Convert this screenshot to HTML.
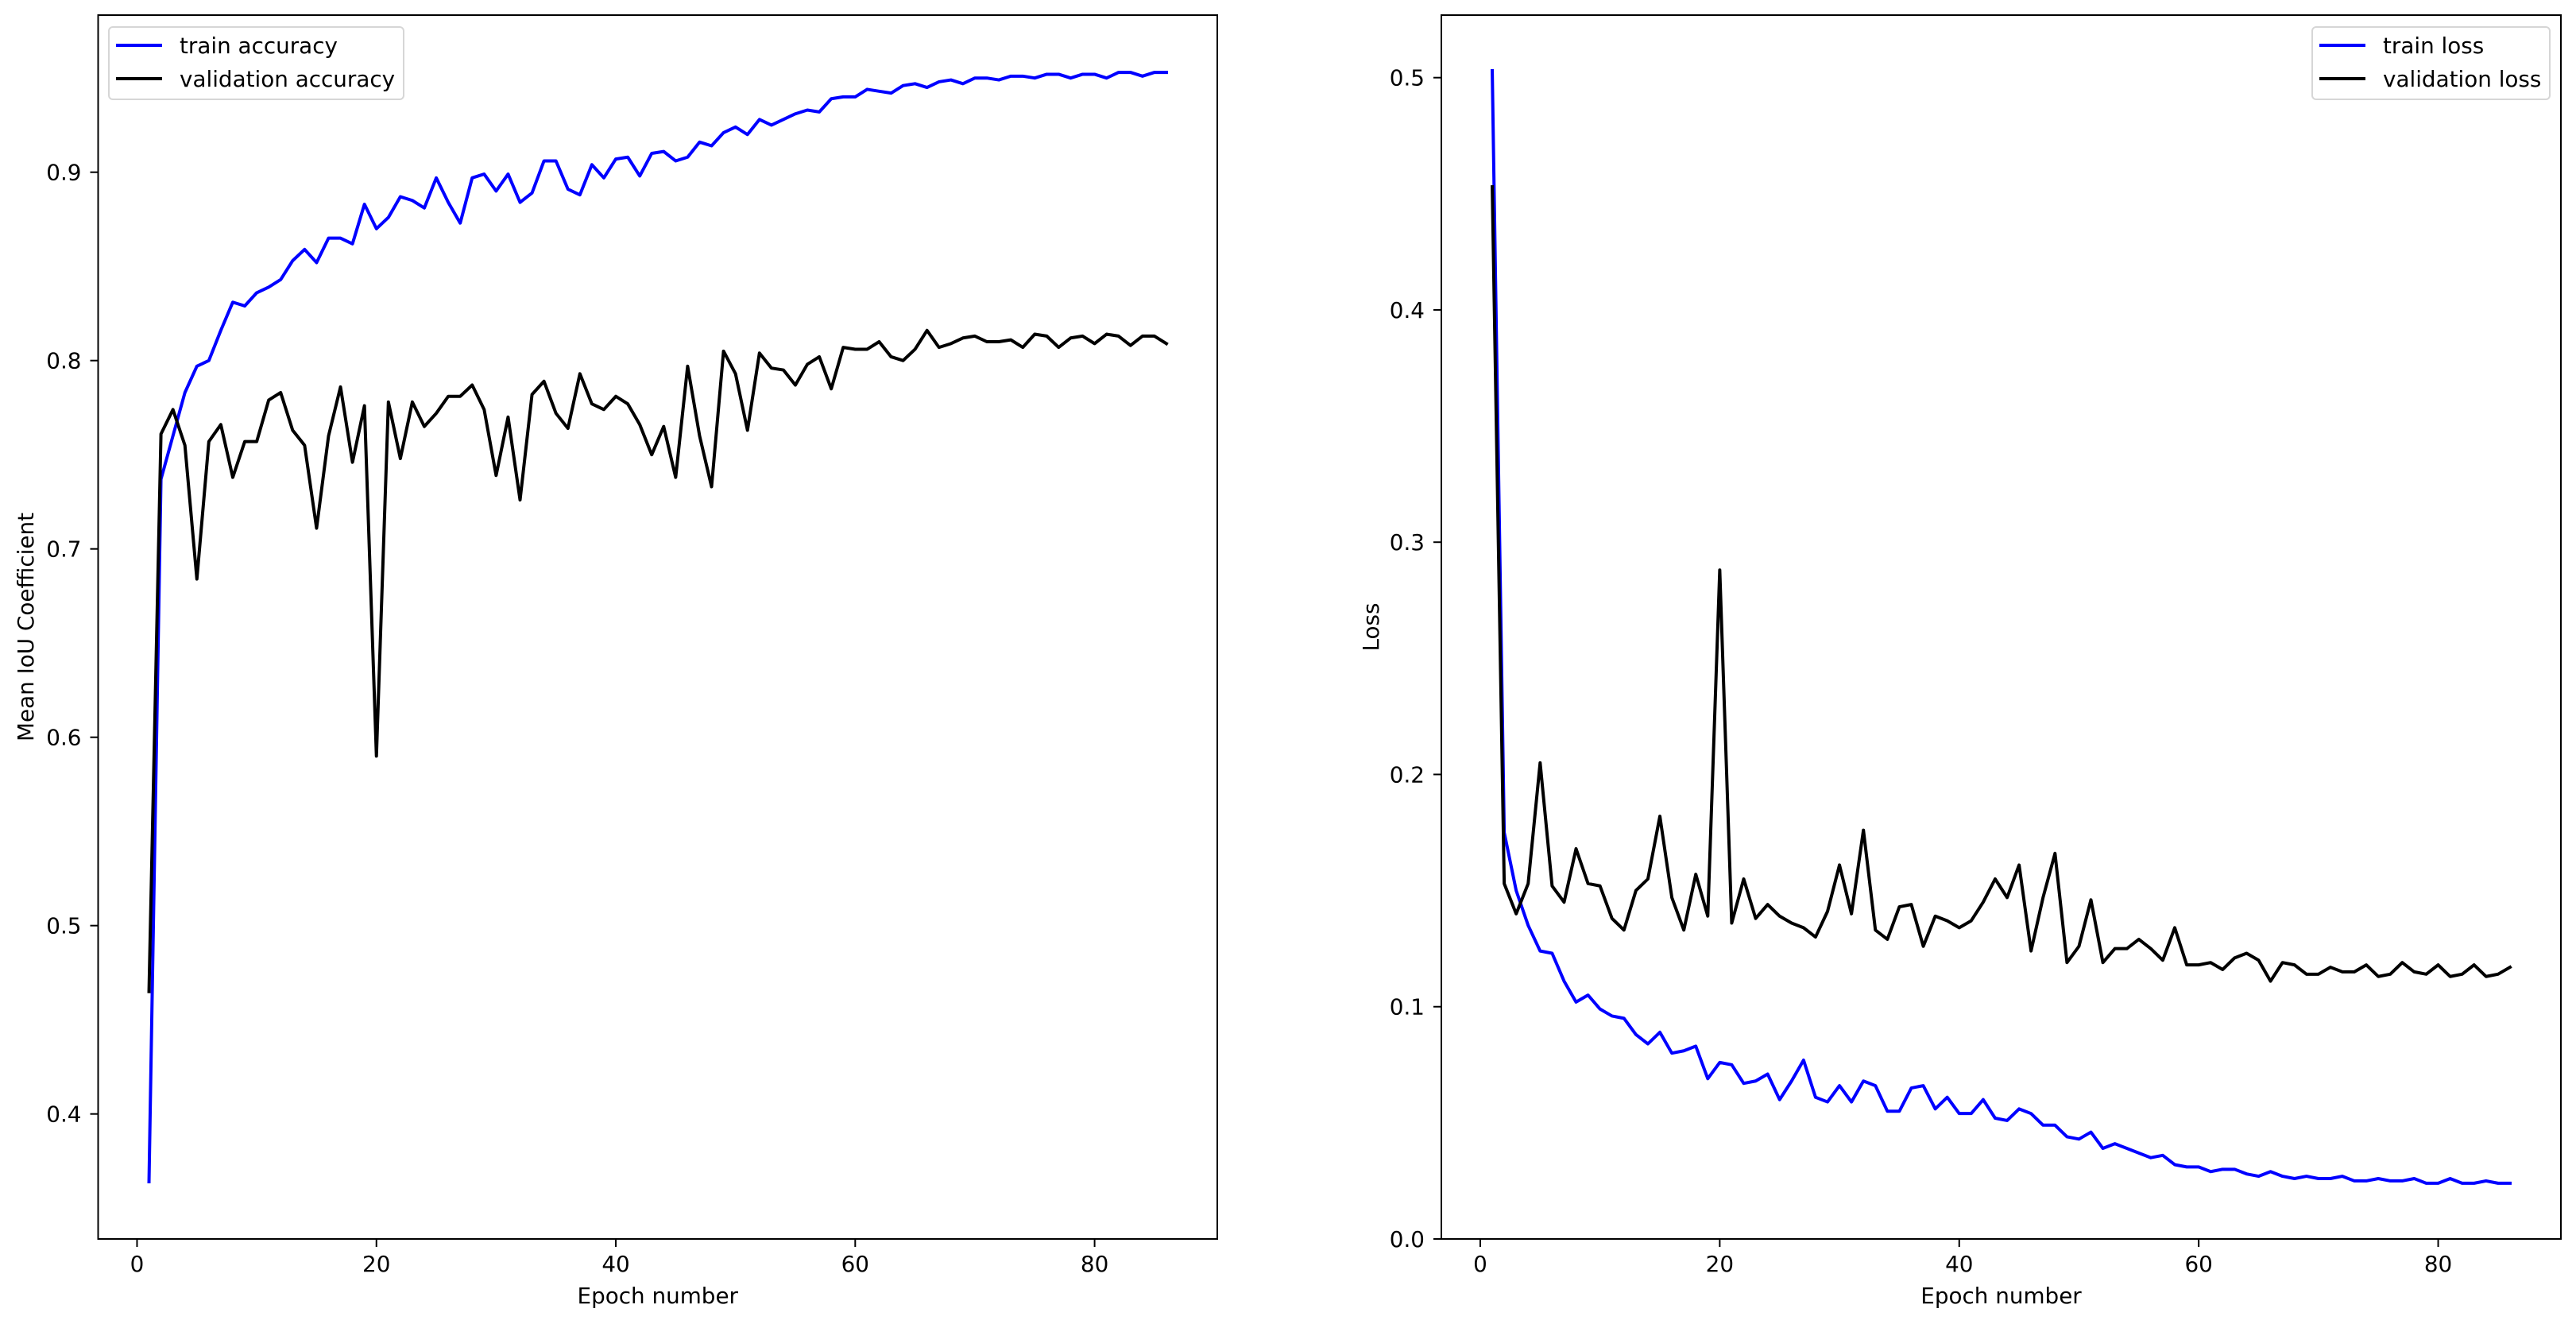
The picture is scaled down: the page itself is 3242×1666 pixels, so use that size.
<!DOCTYPE html>
<html><head><meta charset="utf-8"><style>
html,body{margin:0;padding:0;background:#fff}
svg{display:block;font-family:"DejaVu Sans","Liberation Sans",sans-serif}
</style></head><body>
<svg id="chart" width="3242" height="1666" viewBox="0 0 3242 1666" xmlns="http://www.w3.org/2000/svg">
<rect width="3242" height="1666" fill="#fff"/>
</svg>
<script>
const epochs = Array.from({length:86},(_,i)=>i+1);
const trainAcc = [0.364,0.737,0.760,0.783,0.797,0.800,0.816,0.831,0.829,0.836,0.839,0.843,0.853,0.859,0.852,0.865,0.865,0.862,0.883,0.870,0.876,0.887,0.885,0.881,0.897,0.884,0.873,0.897,0.899,0.890,0.899,0.884,0.889,0.906,0.906,0.891,0.888,0.904,0.897,0.907,0.908,0.898,0.910,0.911,0.906,0.908,0.916,0.914,0.921,0.924,0.920,0.928,0.925,0.928,0.931,0.933,0.932,0.939,0.940,0.940,0.944,0.943,0.942,0.946,0.947,0.945,0.948,0.949,0.947,0.950,0.950,0.949,0.951,0.951,0.950,0.952,0.952,0.950,0.952,0.952,0.950,0.953,0.953,0.951,0.953,0.953];
const valAcc = [0.465,0.761,0.774,0.755,0.684,0.757,0.766,0.738,0.757,0.757,0.779,0.783,0.763,0.755,0.711,0.760,0.786,0.746,0.776,0.590,0.778,0.748,0.778,0.765,0.772,0.781,0.781,0.787,0.774,0.739,0.770,0.726,0.782,0.789,0.772,0.764,0.793,0.777,0.774,0.781,0.777,0.766,0.750,0.765,0.738,0.797,0.760,0.733,0.805,0.793,0.763,0.804,0.796,0.795,0.787,0.798,0.802,0.785,0.807,0.806,0.806,0.810,0.802,0.800,0.806,0.816,0.807,0.809,0.812,0.813,0.810,0.810,0.811,0.807,0.814,0.813,0.807,0.812,0.813,0.809,0.814,0.813,0.808,0.813,0.813,0.809];
const trainLoss = [0.503,0.175,0.150,0.135,0.124,0.123,0.111,0.102,0.105,0.099,0.096,0.095,0.088,0.084,0.089,0.080,0.081,0.083,0.069,0.076,0.075,0.067,0.068,0.071,0.060,0.068,0.077,0.061,0.059,0.066,0.059,0.068,0.066,0.055,0.055,0.065,0.066,0.056,0.061,0.054,0.054,0.060,0.052,0.051,0.056,0.054,0.049,0.049,0.044,0.043,0.046,0.039,0.041,0.039,0.037,0.035,0.036,0.032,0.031,0.031,0.029,0.030,0.030,0.028,0.027,0.029,0.027,0.026,0.027,0.026,0.026,0.027,0.025,0.025,0.026,0.025,0.025,0.026,0.024,0.024,0.026,0.024,0.024,0.025,0.024,0.024];
const valLoss = [0.453,0.153,0.140,0.153,0.205,0.152,0.145,0.168,0.153,0.152,0.138,0.133,0.150,0.155,0.182,0.147,0.133,0.157,0.139,0.288,0.136,0.155,0.138,0.144,0.139,0.136,0.134,0.130,0.141,0.161,0.140,0.176,0.133,0.129,0.143,0.144,0.126,0.139,0.137,0.134,0.137,0.145,0.155,0.147,0.161,0.124,0.147,0.166,0.119,0.126,0.146,0.119,0.125,0.125,0.129,0.125,0.120,0.134,0.118,0.118,0.119,0.116,0.121,0.123,0.120,0.111,0.119,0.118,0.114,0.114,0.117,0.115,0.115,0.118,0.113,0.114,0.119,0.115,0.114,0.118,0.113,0.114,0.118,0.113,0.114,0.117];
const xTicks = [0,20,40,60,80];
const accTicks = [0.4,0.5,0.6,0.7,0.8,0.9];
const lossTicks = [0.0,0.1,0.2,0.3,0.4,0.5];

const NS="http://www.w3.org/2000/svg";
const svg=document.getElementById('chart');
const FS=27.8;
function mk(tag,attrs,parent){const e=document.createElementNS(NS,tag);for(const k in attrs)e.setAttribute(k,attrs[k]);(parent||svg).appendChild(e);return e;}

function panel(cfg){
  const g=mk('g',{});
  
  
  const L=cfg.left,R=cfg.right,T=19,B=1559;
  const xs=v=>L+(v+3.25)*(R-L)/93.5;
  const ys=v=>cfg.y0px+(cfg.y0-v)*cfg.pxPerUnit;
  cfg.series.forEach(s=>{
    const d=s.data.map((v,i)=>(i?'L':'M')+xs(epochs[i]).toFixed(2)+' '+ys(v).toFixed(2)).join(' ');
    const p=mk('path',{d:d,fill:'none',stroke:s.color,'stroke-width':4,'stroke-linejoin':'round','stroke-linecap':'square'},g);
    
    
  });
  const fr=mk('rect',{x:L,y:T,width:R-L,height:B-T,fill:'none',stroke:'#000','stroke-width':2},g);
  
  
  xTicks.forEach(t=>{
    const x=xs(t);
    mk('line',{x1:x,y1:B,x2:x,y2:B+10,stroke:'#000','stroke-width':2},g);
    const tx=mk('text',{x:x,y:1600,'font-size':FS,'text-anchor':'middle',fill:'#000'},g);
    tx.textContent=t;
    
    
  });
  cfg.yTicks.forEach(t=>{
    const y=ys(t);
    mk('line',{x1:L-10,y1:y,x2:L,y2:y,stroke:'#000','stroke-width':2},g);
    const tx=mk('text',{x:L-21,y:y+10,'font-size':FS,'text-anchor':'end',fill:'#000'},g);
    tx.textContent=t.toFixed(1);
    
    
  });
  const xl=mk('text',{x:(L+R)/2,y:1640,'font-size':FS,'text-anchor':'middle',fill:'#000'},g);
  xl.textContent='Epoch number';
  
  
  const yl=mk('text',{x:0,y:0,'font-size':FS,'text-anchor':'middle',fill:'#000',transform:`translate(${cfg.ylabX},${(T+B)/2}) rotate(-90)`},g);
  yl.textContent=cfg.ylabel;
  
  
  const lg=mk('g',{},g);
  
  
  mk('rect',{x:cfg.lgX,y:34,width:cfg.lgW,height:91,rx:5,fill:'#fff','fill-opacity':0.8,stroke:'#d6d6d6','stroke-width':2},lg);
  cfg.series.forEach((s,i)=>{
    const y=57+i*42;
    mk('line',{x1:cfg.lgX+9,y1:y,x2:cfg.lgX+67,y2:y,stroke:s.color,'stroke-width':4},lg);
    const t=mk('text',{x:cfg.lgX+89,y:y+10,'font-size':FS,fill:'#000'},lg);
    t.textContent=s.label;
    
    
  });
}
panel({name:'accuracy-panel',left:123.5,right:1532,y0:0.9,y0px:216.7,pxPerUnit:2370,yTicks:accTicks,ylabel:'Mean IoU Coefficient',ylabX:42,
  lgX:137,lgW:371,
  series:[{name:'train-accuracy-line',label:'train accuracy',color:'#0000ff',data:trainAcc},{name:'validation-accuracy-line',label:'validation accuracy',color:'#000000',data:valAcc}]});
panel({name:'loss-panel',left:1814,right:3223,y0:0.0,y0px:1559,pxPerUnit:2922.6,yTicks:lossTicks,ylabel:'Loss',ylabX:1735,
  lgX:2910,lgW:299,
  series:[{name:'train-loss-line',label:'train loss',color:'#0000ff',data:trainLoss},{name:'validation-loss-line',label:'validation loss',color:'#000000',data:valLoss}]});
</script>
</body></html>
